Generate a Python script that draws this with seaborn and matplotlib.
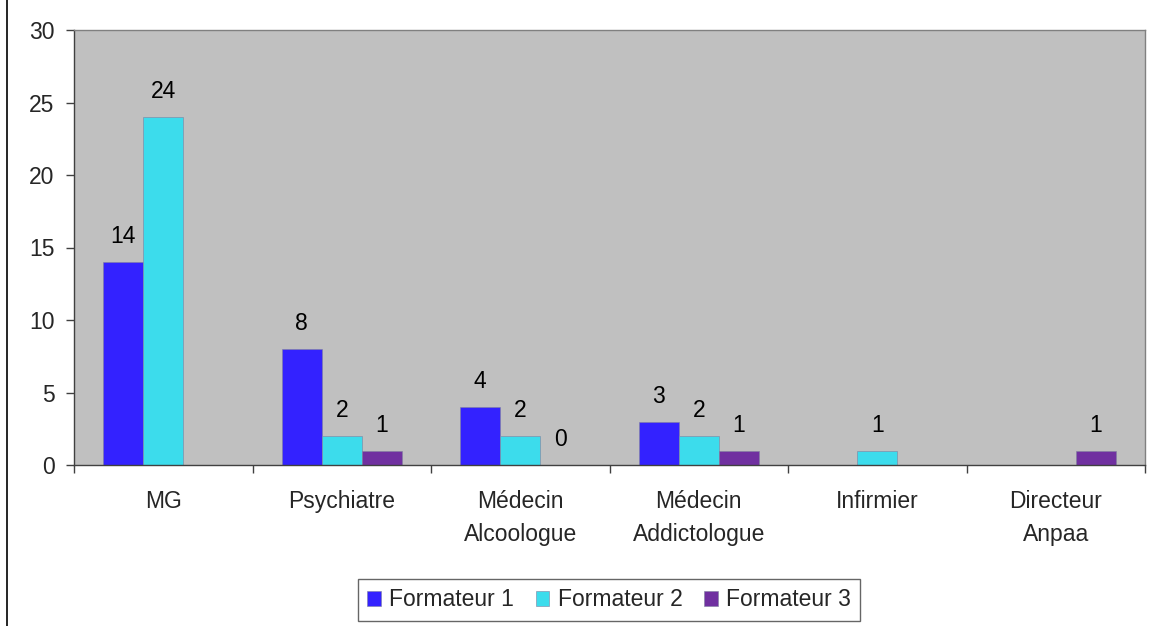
import numpy as np
import pandas as pd
import matplotlib
matplotlib.use("Agg")
import matplotlib.pyplot as plt
import seaborn as sns
from matplotlib.lines import Line2D

# Données (None = barre absente, sans étiquette)
categories = ["MG", "Psychiatre", "Médecin\nAlcoologue", "Médecin\nAddictologue",
              "Infirmier", "Directeur\nAnpaa"]
formateur_1 = [14, 8, 4, 3, None, None]
formateur_2 = [24, 2, 2, 2, 1, None]
formateur_3 = [None, 1, 0, 1, None, 1]
series = ["Formateur 1", "Formateur 2", "Formateur 3"]
couleurs = ["#3322FF", "#3CDCEC", "#7030A0"]

rows = []
for nom, vals in zip(series, [formateur_1, formateur_2, formateur_3]):
    for cat, v in zip(categories, vals):
        rows.append({"categorie": cat, "formateur": nom,
                     "valeur": 0 if v is None else v,
                     "label": "" if v is None else str(v)})
df = pd.DataFrame(rows)

sns.set_theme(style="white")
plt.rcParams["font.family"] = ["Liberation Sans", "DejaVu Sans"]
FS = 16.5

fig = plt.figure(figsize=(11.62, 6.26), dpi=100)
ax = fig.add_axes([74 / 1162, 1 - 465 / 626, (1145 - 74) / 1162, (465 - 30) / 626])
ax.set_facecolor("#C0C0C0")

sns.barplot(data=df, x="categorie", y="valeur", hue="formateur",
            palette=couleurs, width=0.672, ax=ax, errorbar=None,
            edgecolor="#8080A0", linewidth=0.4, saturation=1)

for cont, nom in zip(ax.containers, series):
    labs = df[df["formateur"] == nom]["label"].tolist()
    ax.bar_label(cont, labels=labs, padding=10, fontsize=FS, color="black")

ax.set_ylim(0, 30)
ax.set_yticks(range(0, 31, 5))
ax.set_xlim(-0.5, len(categories) - 0.5)
ax.set_xlabel("")
ax.set_ylabel("")
ax.tick_params(axis="y", which="major", left=True, length=6, width=1,
               color="#404040", labelsize=FS, pad=8, direction="out")
ax.tick_params(axis="x", which="major", length=0, labelsize=FS, pad=18)
ax.set_xticks(np.arange(-0.5, len(categories), 1), minor=True)
ax.tick_params(axis="x", which="minor", bottom=True, length=6, width=1,
               color="#404040", direction="out")
for lab in ax.get_xticklabels():
    lab.set_multialignment("center")
    lab.set_linespacing(1.55)

for s in ["top", "right"]:
    ax.spines[s].set_color("#808080")
    ax.spines[s].set_linewidth(1)
for s in ["left", "bottom"]:
    ax.spines[s].set_color("#404040")
    ax.spines[s].set_linewidth(1)

ax.legend_.remove()
handles = [plt.Rectangle((0, 0), 1, 1, facecolor=c, edgecolor="#8080A0", linewidth=0.4)
           for c in couleurs]
leg = fig.legend(handles, series, loc="center", bbox_to_anchor=(609 / 1162, 1 - 600 / 626),
                 ncol=3, fontsize=FS, frameon=True, fancybox=False,
                 handlelength=0.6, handleheight=0.6, handletextpad=0.35,
                 columnspacing=0.95, borderpad=0.4)
leg.get_frame().set_edgecolor("#404040")
leg.get_frame().set_linewidth(1)

# bordure gauche de la zone de graphique
fig.add_artist(Line2D([7 / 1162, 7 / 1162], [0, 1], color="black", linewidth=1.2))

fig.savefig("out.png", dpi=100)
